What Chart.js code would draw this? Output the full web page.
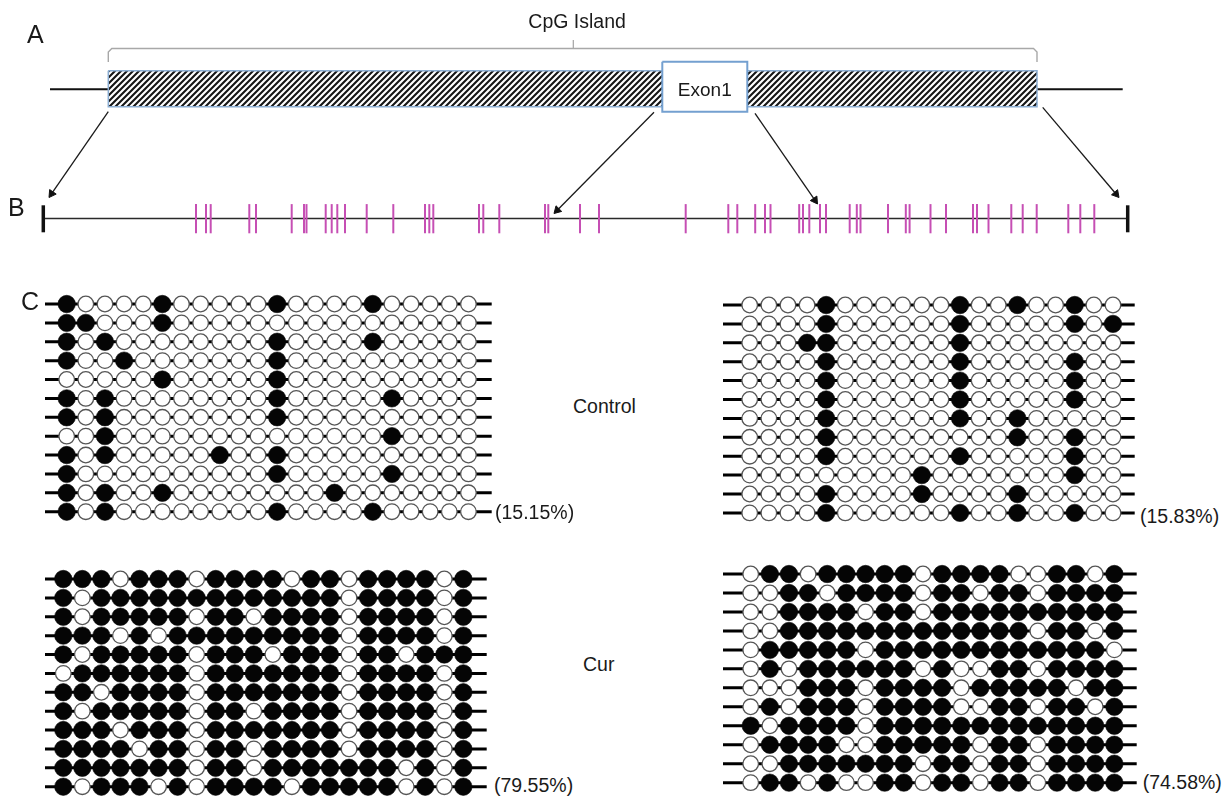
<!DOCTYPE html>
<html><head><meta charset="utf-8">
<script src="https://cdn.jsdelivr.net/npm/chart.js@4.4.1/dist/chart.umd.min.js"></script>
<style>
html,body{margin:0;padding:0;background:#fff;}
#fig{position:relative;width:1231px;height:799px;overflow:hidden;background:#fff;font-family:'Liberation Sans',Arial,Helvetica,sans-serif;color:#1a1a1a;}
#fig canvas{position:absolute;}
.lbl{position:absolute;line-height:1;white-space:nowrap;transform:translateY(-50%);}
.lbl.c{transform:translate(-50%,-50%);}
</style></head><body><div id="fig"></div>
<script>
// ---------------- DATA ----------------
// Panel A/B: positions along the promoter region (arbitrary units, left to right)
const regionSpan = [43.3, 1127.7];      // sequenced region shown in B
const flankSpan = [50, 1122.7];         // genomic line in A
const islandSpan = [108.3, 1037];       // CpG island
const exonSpan = [662.3, 747.3];        // Exon1
const islandLabelAt = [573.3];          // centre of the CpG Island bracket
const arrowTargets = [49, 554, 817.5, 1119];
const cpgSites = [196, 206, 210.7, 249.3, 256, 291.7, 304, 306.5, 325.7, 331.7, 337.3, 345,
  366.7, 393.3, 425, 429.3, 433.3, 479, 483.3, 499.3, 545, 548.3, 580, 599, 685.7,
  728.3, 737.3, 755.2, 765, 770.5, 799.2, 803, 809.3, 820, 826, 849.7, 856.8, 860.5,
  888, 905.8, 909.6, 930.5, 946, 973, 977, 988.5, 1011.3, 1022.7, 1036.7, 1068.3,
  1080.3, 1094.3];

// Panel C: bisulfite sequencing clones (12 clones each)
const cpgCounts = [22, 20];
const groupLabels = ['Control', 'Cur'];
// methylated CpG indices (1-based) per clone, Control
const controlLeftMethylated = [
  [1,6,12,17],[1,2,6],[1,3,12,17],[1,4,12],[6,12],[1,3,12,18],
  [1,3,12],[3,18],[1,3,9,12],[1,12,18],[1,3,6,15],[1,3,12,17]];
const controlRightMethylated = [
  [5,12,15,18],[5,12,18,20],[4,5,12],[5,12,18],[5,12,18],[5,12,18],
  [5,12,15],[5,15,18],[5,12,18],[10,18],[5,10,15],[5,12,15,18]];
// unmethylated CpG indices (1-based) per clone, Cur
const curLeftUnmethylated = [
  [4,8,13,16,21],[2,16,21],[2,8,11,16,21],[4,6,16,21],[2,8,12,16,19],[1,8,16,21],
  [3,8,16,21],[2,8,11,16,21],[4,8,16,21],[5,8,11,16,21],[8,11,19,21],[2,6,8,13,19,21]];
const curRightUnmethylated = [
  [1,4,10,15,16,19],[1,2,5,10,13,16],[1,2,7,10],[1,2,16,19],[1,7,20],[1,3,10,12,13,16],
  [1,2,3,7,12,18],[1,3,7,12,13,16,19],[2,7],[1,6,7,13,16],[1,2,10,13,16],[1,4,6,7,10,13,16]];

// ---------------- helpers ----------------
const fig = document.getElementById('fig');

function label(text, x, yc, size, centered) {
  const d = document.createElement('div');
  d.className = 'lbl' + (centered ? ' c' : '');
  d.textContent = text;
  d.style.left = x + 'px';
  d.style.top = yc + 'px';
  d.style.fontSize = size + 'px';
  fig.appendChild(d);
}

function makeCanvas(left, top, w, h) {
  const c = document.createElement('canvas');
  c.width = w; c.height = h;
  c.style.left = left + 'px'; c.style.top = top + 'px';
  c.style.width = w + 'px'; c.style.height = h + 'px';
  fig.appendChild(c);
  return c;
}

function makeChart(canvas, xmin, xmax, ymin, ymax, datasets) {
  return new Chart(canvas, {
    type: 'scatter',
    data: { datasets },
    options: {
      responsive: false, maintainAspectRatio: false, animation: false,
      devicePixelRatio: 1, events: [],
      layout: { padding: 0, autoPadding: false },
      plugins: { legend: { display: false }, tooltip: { enabled: false }, title: { display: false } },
      scales: {
        x: { type: 'linear', min: xmin, max: xmax, display: false },
        y: { type: 'linear', min: ymin, max: ymax, reverse: true, display: false }
      }
    }
  });
}

function seg(points, color, width, order, extra) {
  return Object.assign({
    data: points, showLine: true, borderColor: color, borderWidth: width,
    pointRadius: 0, fill: false, tension: 0, order: order, clip: false
  }, extra || {});
}

function hatchPattern() {
  const s = 6;
  const c = document.createElement('canvas'); c.width = s; c.height = s;
  const g = c.getContext('2d');
  g.fillStyle = '#ffffff'; g.fillRect(0, 0, s, s);
  g.strokeStyle = '#151515'; g.lineWidth = 2.1; g.lineCap = 'square';
  g.beginPath();
  g.moveTo(-1, s + 1); g.lineTo(s + 1, -1);
  g.moveTo(-1, 1); g.lineTo(1, -1);
  g.moveTo(s - 1, s + 1); g.lineTo(s + 1, s - 1);
  g.stroke();
  return g.createPattern(c, 'repeat');
}

// ---------------- Panels A + B ----------------
(function () {
  const W = 1231, H = 250;
  const cv = makeCanvas(0, 0, W, H);
  const yFlank = 89.3, boxTop = 70.7, boxBot = 106.7, exonTop = 61.7, exonBot = 111.7;
  const bracketY = 48.5, bracketEnd = 62, bracketTickTop = 40;
  const trackB = 218.5;
  const rect = (a, b, t, u) => [{x:a,y:t},{x:b,y:t},{x:b,y:u},{x:a,y:u},{x:a,y:t}];

  const ds = [];
  ds.push(seg([{x:flankSpan[0],y:yFlank},{x:flankSpan[1],y:yFlank}], '#111', 2, 20));
  ds.push(seg(rect(islandSpan[0], islandSpan[1], boxTop, boxBot), '#8badd2', 1.5, 19,
    { fill: 'shape', backgroundColor: hatchPattern() }));
  ds.push(seg(rect(exonSpan[0], exonSpan[1], exonTop, exonBot), '#74a0d0', 2, 18,
    { fill: 'shape', backgroundColor: '#ffffff' }));
  // bracket
  ds.push(seg([
    {x:islandSpan[0], y:bracketEnd}, {x:islandSpan[0], y:bracketY + 3.5},
    {x:islandSpan[0] + 3.5, y:bracketY}, {x:islandSpan[1] - 3.5, y:bracketY},
    {x:islandSpan[1], y:bracketY + 3.5}, {x:islandSpan[1], y:bracketEnd}], '#a8a8a8', 1.4, 17));
  ds.push(seg([{x:islandLabelAt[0], y:bracketY}, {x:islandLabelAt[0], y:bracketTickTop}], '#a3a3a3', 1.2, 17));

  // arrows from A to B
  const starts = [[islandSpan[0], boxBot + 5], [exonSpan[0] - 8.3, exonBot + 0.6],
                  [exonSpan[1] + 7.7, exonBot + 1.6], [islandSpan[1] + 5.7, boxBot + 0.6]];
  const tipY = [197.5, 213.5, 204, 197.5];
  const headR = 4.6;
  const heads = [], rots = [];
  arrowTargets.forEach((tx, i) => {
    const sx = starts[i][0], sy = starts[i][1], ty = tipY[i];
    const dx = tx - sx, dy = ty - sy, len = Math.hypot(dx, dy);
    const ux = dx / len, uy = dy / len;
    const cx = tx - ux * headR, cy = ty - uy * headR;
    ds.push(seg([{x:sx, y:sy}, {x:cx, y:cy}], '#1a1a1a', 1.3, 6));
    heads.push({x:cx, y:cy});
    rots.push(Math.atan2(dx, -dy) * 180 / Math.PI);
  });
  ds.push({ data: heads, pointStyle: 'triangle', pointRadius: headR, pointRotation: rots,
    backgroundColor: '#111', borderColor: '#111', borderWidth: 1, order: 5, clip: false });

  // panel B line, end bars and CpG sites
  ds.push(seg([{x:regionSpan[0], y:trackB}, {x:regionSpan[1], y:trackB}], '#2a2a2a', 1.6, 4));
  ds.push({ data: regionSpan.map(v => ({x:v, y:trackB + 0.3})), pointStyle: 'line', pointRotation: 90,
    pointRadius: 13.5, borderColor: '#111', borderWidth: 3.5, order: 3, clip: false });
  ds.push({ data: cpgSites.map(v => ({x:v, y:trackB + 0.2})), pointStyle: 'line', pointRotation: 90,
    pointRadius: 14.6, borderColor: '#c64fb4', borderWidth: 2, order: 2, clip: false });

  makeChart(cv, 0, W, 0, H, ds);
})();

// ---------------- Panel C ----------------
function buildMatrix(rows, n, listIsMethylated) {
  return rows.map(r => {
    const set = new Set(r);
    const out = [];
    for (let c = 1; c <= n; c++) out.push(listIsMethylated ? set.has(c) : !set.has(c));
    return out;
  });
}

const gridDefs = [
  { rows: controlLeftMethylated, n: cpgCounts[0], meth: true,
    c1x: 66.7, cstep: 19.13, r1y: 304, rstep: 18.88, L: 45, R: 491.7, px: 495, py: 513 },
  { rows: controlRightMethylated, n: cpgCounts[1], meth: true,
    c1x: 750, cstep: 19.12, r1y: 305, rstep: 18.9, L: 723.3, R: 1135, px: 1140, py: 517 },
  { rows: curLeftUnmethylated, n: cpgCounts[0], meth: false,
    c1x: 63.3, cstep: 19.05, r1y: 579, rstep: 18.88, L: 45, R: 486.7, px: 494, py: 786 },
  { rows: curRightUnmethylated, n: cpgCounts[1], meth: false,
    c1x: 750.7, cstep: 19.14, r1y: 574, rstep: 18.97, L: 723, R: 1136.7, px: 1142.7, py: 782.7 }
];

gridDefs.forEach(g => {
  const m = buildMatrix(g.rows, g.n, g.meth);
  const nRows = m.length;
  const left = g.L - 4, top = g.r1y - 13;
  const W = Math.round(g.R - g.L + 8);
  const H = Math.round((nRows - 1) * g.rstep + 26);
  const cv = makeCanvas(left, top, W, H);
  const xmin = 1 - (g.c1x - left) / g.cstep, xmax = xmin + W / g.cstep;
  const ymin = 1 - (g.r1y - top) / g.rstep, ymax = ymin + H / g.rstep;
  const lx0 = 1 + (g.L - g.c1x) / g.cstep, lx1 = 1 + (g.R - g.c1x) / g.cstep;

  const filled = [], empty = [];
  let count = 0;
  m.forEach((row, ri) => row.forEach((v, ci) => {
    const p = { x: ci + 1, y: ri + 1 };
    if (v) { filled.push(p); count++; } else empty.push(p);
  }));
  const ds = [];
  ds.push({ data: filled, pointStyle: 'circle', pointRadius: 8.7, backgroundColor: '#050505',
    borderColor: '#050505', borderWidth: 0.6, order: 0 });
  ds.push({ data: empty, pointStyle: 'circle', pointRadius: 7.8, backgroundColor: '#ffffff',
    borderColor: '#555555', borderWidth: 1.3, order: 1 });
  m.forEach((row, ri) => {
    ds.push(seg([{x: lx0, y: ri + 1}, {x: lx1, y: ri + 1}], '#000', 3, 2));
  });
  makeChart(cv, xmin, xmax, ymin, ymax, ds);

  const pct = (count / (g.n * nRows) * 100).toFixed(2);
  label('(' + pct + '%)', g.px, g.py, 19.5, false);
});

// ---------------- Text ----------------
label('A', 27, 34, 25, false);
label('B', 8, 207, 25, false);
label('C', 21, 300.5, 25, false);
label('CpG Island', 528.3, 21.7, 19.5, false);
label('Exon1', (exonSpan[0] + exonSpan[1]) / 2, 88.5, 19, true);
label(groupLabels[0], 573, 407, 19.5, false);
label(groupLabels[1], 583, 665, 19.5, false);
</script></body></html>
